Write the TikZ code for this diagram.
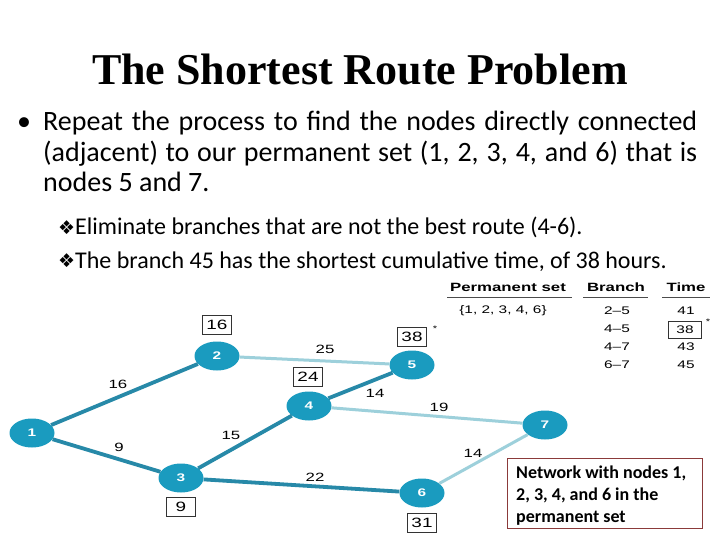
\documentclass[tikz,border=0pt]{standalone}
\usepackage{fontspec}
\setmainfont{Carlito}
\newfontfamily\titlefont{Liberation Serif}
\newfontfamily\gfont[FakeStretch=1.4]{Liberation Sans}
\newfontfamily\symfont{DejaVu Sans}
\usetikzlibrary{shapes.geometric}
\definecolor{nodeblue}{HTML}{1A9BBF}
\definecolor{darkedge}{HTML}{2789A8}
\definecolor{lightedge}{HTML}{9DD0DB}
\definecolor{boxred}{HTML}{8B3A3A}
\begin{document}
\begin{tikzpicture}[x=1pt,y=-1pt,
  vert/.style={ellipse, fill=nodeblue, minimum width=45pt, minimum height=29pt, inner sep=0pt,
    text=white, font=\gfont\bfseries\fontsize{11}{11}\selectfont},
  heavy/.style={draw=darkedge, line width=3.8pt},
  light/.style={draw=lightedge, line width=3pt},
  elabel/.style={font=\gfont\fontsize{12}{12}\selectfont, inner sep=0pt},
  tbox/.style={draw=black!80, line width=0.7pt, minimum width=29pt, minimum height=19pt,
    inner sep=0pt, font=\gfont\fontsize{13.5}{13.5}\selectfont},
  star/.style={font=\gfont\fontsize{8}{8}\selectfont, inner sep=0pt},
  body/.style={font=\fontsize{28}{30}\selectfont, inner sep=0pt, anchor=base west},
  subbody/.style={font=\fontsize{24}{28}\selectfont, inner sep=0pt, anchor=base west},
  diam/.style={font=\symfont\fontsize{19}{19}\selectfont, inner sep=0pt, anchor=base west},
  thead/.style={font=\gfont\bfseries\fontsize{12}{12}\selectfont, inner sep=0pt, anchor=base},
  trow/.style={font=\gfont\fontsize{11}{11}\selectfont, inner sep=0pt},
  notetext/.style={font=\bfseries\fontsize{18}{22}\selectfont, inner sep=0pt, anchor=base west}
]
\useasboundingbox (0,0) rectangle (720,540);
\fill[white] (0,0) rectangle (720,540);

% title and text
\node[anchor=base, inner sep=0pt, font=\titlefont\bfseries\fontsize{44}{44}\selectfont] (title) at (360,85) {The Shortest Route Problem};
\node[body] (bul) at (17,131) {•};
\node[body] (l1) at (43,131) {\makebox[654pt][s]{Repeat the process to find the nodes directly connected}};
\node[body] (l2) at (43,162) {\makebox[654pt][s]{(adjacent) to our permanent set (1, 2, 3, 4, and 6) that is}};
\node[body] (l3) at (43,192) {nodes 5 and 7.};
\node[diam] (d1) at (58,234) {❖};
\node[subbody] (s1) at (75,235) {Eliminate branches that are not the best route (4-6).};
\node[diam] (d2) at (58,267) {❖};
\node[subbody] (s2) at (75,268) {The branch 45 has the shortest cumulative time, of 38 hours.};

% network nodes
\node[vert] (n1) at (32,433) {1};
\node[vert] (n2) at (217,356) {2};
\node[vert] (n3) at (181,478) {3};
\node[vert] (n4) at (309,406) {4};
\node[vert] (n5) at (412,365) {5};
\node[vert] (n6) at (422,493) {6};
\node[vert] (n7) at (545,425) {7};

% edges
\draw[light] (n2) -- (n5);
\draw[light] (n4) -- (n7);
\draw[light] (n6) -- (n7);
\draw[heavy] (n1) -- (n2);
\draw[heavy] (n1) -- (n3);
\draw[heavy] (n3) -- (n4);
\draw[heavy] (n4) -- (n5);
\draw[heavy] (n3) -- (n6);

% edge labels
\node[elabel] (e12) at (118,384) {16};
\node[elabel] (e25) at (325,349) {25};
\node[elabel] (e45) at (375,393) {14};
\node[elabel] (e47) at (439,407) {19};
\node[elabel] (e34) at (231,435) {15};
\node[elabel] (e13) at (119,447) {9};
\node[elabel] (e36) at (315,477) {22};
\node[elabel] (e67) at (473,453) {14};

% cumulative time boxes
\node[tbox] (b2) at (217,325) {16};
\node[tbox] (b5) at (412,337) {38};
\node[star] (s5) at (435,329) {*};
\node[tbox] (b4) at (308,377) {24};
\node[tbox] (b3) at (181,507) {9};
\node[tbox] (b6) at (422,523) {31};

% table
\node[thead] (h1) at (508,291) {Permanent set};
\node[thead] (h2) at (616,291) {Branch};
\node[thead] (h3) at (686,291) {Time};
\draw[black!70, line width=0.6pt] (447,297) -- (572,297);
\draw[black!70, line width=0.6pt] (583,297) -- (648,297);
\draw[black!70, line width=0.6pt] (662,297) -- (710,297);
\node[trow] (pset) at (503,311) {\{1, 2, 3, 4, 6\}};
\node[trow] (br1) at (617,311) {2–5};
\node[trow] (br2) at (617,329) {4–5};
\node[trow] (br3) at (617,347) {4–7};
\node[trow] (br4) at (617,365) {6–7};
\node[trow] (t1) at (686,311) {41};
\node[trow, draw=black!80, line width=0.7pt, minimum width=33pt, minimum height=17pt] (t2) at (685,330) {38};
\node[star] (st) at (708,322) {*};
\node[trow] (t3) at (686,347) {43};
\node[trow] (t4) at (686,365) {45};

% note box
\node[draw=boxred, line width=0.8pt, fill=white, minimum width=195pt, minimum height=70pt, inner sep=0pt, anchor=north west] (note) at (507,458) {};
\node[notetext] (nt1) at (516,478) {Network with nodes 1,};
\node[notetext] (nt2) at (516,500) {2, 3, 4, and 6 in the};
\node[notetext] (nt3) at (516,522) {permanent set};
\end{tikzpicture}
\end{document}
